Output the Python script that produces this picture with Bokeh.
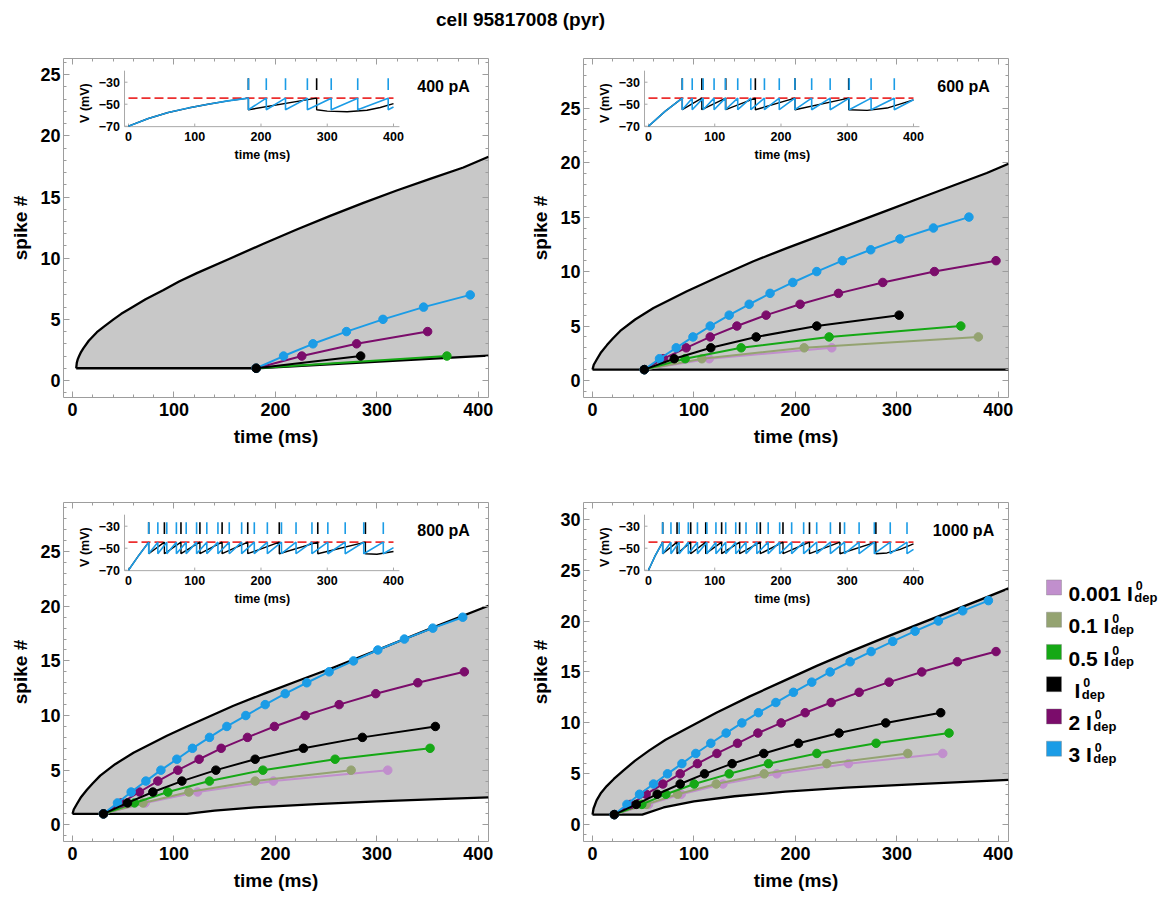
from bokeh.plotting import figure
from bokeh.layouts import column, row
from bokeh.models import Range1d, LinearAxis, SingleIntervalTicker, FixedTicker
from bokeh.core.properties import value
from bokeh.embed import file_html
from bokeh.resources import INLINE

FONT = "Liberation Sans"
TITLE = "cell 95817008 (pyr)"

# ---------------- series meta ----------------
series_coef = ["0.001", "0.1", "0.5", "", "2", "3"]
series_colors = ["#c18fcd", "#94a371", "#15a815", "#000000", "#7b0c6b", "#1b9ce6"]
panel_currents = ["400 pA", "600 pA", "800 pA", "1000 pA"]

# ---------------- 400 pA: spike times (ms) / spike number ----------------
t400_0001 = [181]; n400_0001 = [1]
t400_01 = [181]; n400_01 = [1]
t400_05 = [181, 369]; n400_05 = [1, 2]
t400_1 = [181, 284]; n400_1 = [1, 2]
t400_2 = [181, 226, 280, 350]; n400_2 = [1, 2, 3, 4]
t400_3 = [181, 208, 237, 270, 306, 346, 392]; n400_3 = [1, 2, 3, 4, 5, 6, 7]

# ---------------- 600 pA ----------------
t600_0001 = [51, 115, 235.8]; n600_0001 = [1, 2, 3]
t600_01 = [51, 107.8, 208.6, 380.3]; n600_01 = [1, 2, 3, 4]
t600_05 = [51, 91.3, 146.5, 233.2, 363]; n600_05 = [1, 2, 3, 4, 5]
t600_1 = [51, 80.5, 116.6, 161.3, 221, 302.2]; n600_1 = [1, 2, 3, 4, 5, 6]
t600_2 = [51, 70, 92.3, 116, 142.3, 171.1, 204.6, 242.4, 286.1, 337, 397.7]
n600_2 = [1, 2, 3, 4, 5, 6, 7, 8, 9, 10, 11]
t600_3 = [51, 66, 82.5, 99, 116, 134.7, 154.4, 175, 197.4, 221, 246.3, 274.2, 303, 336, 371]
n600_3 = [1, 2, 3, 4, 5, 6, 7, 8, 9, 10, 11, 12, 13, 14, 15]

# ---------------- 800 pA ----------------
t800_0001 = [30.5, 71.6, 123.2, 198, 310.7]; n800_0001 = [1, 2, 3, 4, 5]
t800_01 = [30.5, 69.4, 114.7, 180, 274.6]; n800_01 = [1, 2, 3, 4, 5]
t800_05 = [30.5, 61.1, 93.9, 135, 187.6, 258.8, 352.4]; n800_05 = [1, 2, 3, 4, 5, 6, 7]
t800_1 = [30.5, 54.2, 79.2, 107.8, 141.3, 180, 227.6, 285.7, 357.6]
n800_1 = [1, 2, 3, 4, 5, 6, 7, 8, 9]
t800_2 = [30.5, 48, 66, 84.1, 103.8, 124.8, 146.5, 172.4, 199, 229.3, 262.8, 298.9, 340.3, 386.2]
n800_2 = [1, 2, 3, 4, 5, 6, 7, 8, 9, 10, 11, 12, 13, 14]
t800_3 = [30.5, 44.3, 57.8, 72.3, 87.1, 102.8, 118.2, 135, 152.1, 170.8, 189.9, 209.6,
          230.9, 252.9, 276.9, 300.9, 327.1, 355.1, 384.6]
n800_3 = [1, 2, 3, 4, 5, 6, 7, 8, 9, 10, 11, 12, 13, 14, 15, 16, 17, 18, 19]

# ---------------- 1000 pA ----------------
t1000_0001 = [21.4, 55.2, 87.4, 128.5, 181.7, 252.2, 345.2]; n1000_0001 = [1, 2, 3, 4, 5, 6, 7]
t1000_01 = [21.4, 52.9, 83.8, 121.9, 169.2, 230.9, 310.7]; n1000_01 = [1, 2, 3, 4, 5, 6, 7]
t1000_05 = [21.4, 48.6, 72.3, 100.2, 134.7, 173.4, 221.1, 279.5, 351.4]
n1000_05 = [1, 2, 3, 4, 5, 6, 7, 8, 9]
t1000_1 = [21.4, 43.1, 63.7, 86.4, 110.4, 137.6, 168.8, 203, 243, 289, 343.2]
n1000_1 = [1, 2, 3, 4, 5, 6, 7, 8, 9, 10, 11]
t1000_2 = [21.4, 37.5, 52.9, 69.3, 86.4, 103.4, 122.6, 142.9, 163, 185.9, 209.6, 235.2,
           262.8, 292.3, 324.5, 359.6, 397.7]
n1000_2 = [1, 2, 3, 4, 5, 6, 7, 8, 9, 10, 11, 12, 13, 14, 15, 16, 17]
t1000_3 = [21.4, 33.9, 46.3, 60.1, 73.9, 88.1, 101.8, 116.6, 131.7, 147.2, 163.5, 180.7,
           198, 216.1, 234.2, 253.9, 274.6, 295.9, 317.9, 340.9, 364.9, 390.2]
n1000_3 = [1, 2, 3, 4, 5, 6, 7, 8, 9, 10, 11, 12, 13, 14, 15, 16, 17, 18, 19, 20, 21, 22]

# ---------------- grey region boundaries (upper / lower) ----------------
u400_t = [3.6, 4.2, 5.2, 6.5, 8.5, 10.8, 16, 24, 30, 40.4, 48, 56.8, 72, 89.7, 105, 122.5,
          155.4, 188.2, 221, 253.9, 286.7, 319.5, 352.4, 385.2, 410]
u400_n = [1.0, 1.45, 1.75, 2.0, 2.35, 2.65, 3.25, 3.95, 4.35, 5.0, 5.45, 5.88, 6.65, 7.4,
          8.1, 8.78, 9.98, 11.18, 12.35, 13.46, 14.53, 15.54, 16.49, 17.42, 18.3]
l400_t = [3.6, 181, 410]
l400_n = [1, 1, 2.04]

u600_t = [0, 1.2, 4.3, 8.5, 14.2, 20, 27.3, 42, 60.1, 93, 125.8, 158.6, 191.5, 224.3, 257.2,
          290, 322.9, 355.7, 388.6, 410]
u600_n = [1, 1.45, 1.95, 2.6, 3.25, 3.85, 4.55, 5.6, 6.65, 8.2, 9.6, 10.95, 12.15, 13.3, 14.45,
          15.6, 16.75, 17.9, 19.05, 19.9]
l600_t = [0, 410]
l600_n = [1, 1]

u800_t = [0, 1.2, 4.3, 8.5, 14.2, 20, 27.3, 42, 60.1, 93, 112.7, 158.6, 191.5, 224.3, 257.2,
          290, 322.9, 355.7, 410]
u800_n = [1, 1.4, 1.9, 2.55, 3.2, 3.8, 4.5, 5.55, 6.6, 8.15, 9.0, 10.9, 12.1, 13.25, 14.4,
          15.6, 16.85, 18.07, 20.05]
l800_t = [0, 112.7, 140, 180, 240, 300, 360, 410]
l800_n = [1, 1, 1.3, 1.6, 1.9, 2.15, 2.35, 2.5]

u1000_t = [0, 1, 4, 8.5, 14, 21, 30, 42, 56, 72, 90, 122, 155, 188, 221, 254, 286, 319, 352,
           385, 410]
u1000_n = [1, 1.6, 2.4, 3.15, 3.8, 4.5, 5.3, 6.3, 7.3, 8.35, 9.3, 11.0, 12.6, 14.1, 15.6, 17.0,
           18.3, 19.6, 20.9, 22.2, 23.2]
l1000_t = [0, 49, 70, 100, 140, 190, 250, 320, 410]
l1000_n = [1, 1, 1.7, 2.3, 2.8, 3.25, 3.65, 4.0, 4.4]

# ---------------- inset voltage traces ----------------
V_TH = -44.5        # threshold (mV), red dashed
V_RESET = -55.0     # reset (mV)
SPIKE_MARK = [-37.0, -26.5]   # spike raster marks (mV)
STIM = [0, 400]     # stimulus window (ms)
ins_xticks = [0, 100, 200, 300, 400]
ins_yticks = [-70, -50, -30]

ramp400_t = [0, 30, 60, 90, 120, 150, 181]; ramp400_v = [-70, -63, -57.5, -53.5, -50, -47, -44.5]
ramp600_t = [0, 25, 51]; ramp600_v = [-70, -56.5, -44.5]
ramp800_t = [0, 15, 30.5]; ramp800_v = [-70, -57, -44.5]
ramp1000_t = [0, 10, 21.4]; ramp1000_v = [-70, -57, -44.5]

tail400_3_t = [400]; tail400_3_v = [-52.5]
tail600_3_t = [400]; tail600_3_v = [-46]
tail800_3_t = [400]; tail800_3_v = [-49.5]
tail1000_3_t = [400]; tail1000_3_v = [-51]
tail400_1_t = [300, 330, 360, 380, 400]; tail400_1_v = [-56.3, -56.8, -55.5, -53, -49.5]
tail600_1_t = [330, 360, 400]; tail600_1_v = [-55.6, -53.5, -46]
tail800_1_t = [375, 400]; tail800_1_v = [-55.5, -53]
tail1000_1_t = [360, 380, 400]; tail1000_1_v = [-54.3, -51, -46]

# axis ranges read from the frames
x_main = (-8.9, 410)
y400 = (-1.39, 26.33)
y600 = (-1.56, 29.56)
y800 = (-1.53, 29.5)
y1000 = (-1.64, 31.63)

# main axis tick positions
x_major = [0, 100, 200, 300, 400]
x_minor = [t for t in range(0, 401, 20) if t % 100]

panels = [
    dict(label=panel_currents[0], yr=y400,
         series=[(t400_0001, n400_0001), (t400_01, n400_01), (t400_05, n400_05),
                 (t400_1, n400_1), (t400_2, n400_2), (t400_3, n400_3)],
         upper=(u400_t, u400_n), lower=(l400_t, l400_n), ramp=(ramp400_t, ramp400_v),
         tail3=(tail400_3_t, tail400_3_v), tail1=(tail400_1_t, tail400_1_v)),
    dict(label=panel_currents[1], yr=y600,
         series=[(t600_0001, n600_0001), (t600_01, n600_01), (t600_05, n600_05),
                 (t600_1, n600_1), (t600_2, n600_2), (t600_3, n600_3)],
         upper=(u600_t, u600_n), lower=(l600_t, l600_n), ramp=(ramp600_t, ramp600_v),
         tail3=(tail600_3_t, tail600_3_v), tail1=(tail600_1_t, tail600_1_v)),
    dict(label=panel_currents[2], yr=y800,
         series=[(t800_0001, n800_0001), (t800_01, n800_01), (t800_05, n800_05),
                 (t800_1, n800_1), (t800_2, n800_2), (t800_3, n800_3)],
         upper=(u800_t, u800_n), lower=(l800_t, l800_n), ramp=(ramp800_t, ramp800_v),
         tail3=(tail800_3_t, tail800_3_v), tail1=(tail800_1_t, tail800_1_v)),
    dict(label=panel_currents[3], yr=y1000,
         series=[(t1000_0001, n1000_0001), (t1000_01, n1000_01), (t1000_05, n1000_05),
                 (t1000_1, n1000_1), (t1000_2, n1000_2), (t1000_3, n1000_3)],
         upper=(u1000_t, u1000_n), lower=(l1000_t, l1000_n), ramp=(ramp1000_t, ramp1000_v),
         tail3=(tail1000_3_t, tail1000_3_v), tail1=(tail1000_1_t, tail1000_1_v)),
]

FRAME_COL = "#9d9d9d"
FILL_COL = "#c8c8c8"
RED = "#ec2f2f"


def trace(ramp, spikes, tail):
    xs = list(ramp[0]); ys = list(ramp[1])
    for s in spikes:
        xs += [s, s]; ys += [V_TH, V_RESET]
    xs += list(tail[0]); ys += list(tail[1])
    return xs, ys


def style_axis(ax):
    ax.axis_line_color = None
    ax.major_tick_line_color = FRAME_COL
    ax.minor_tick_line_color = FRAME_COL
    ax.major_tick_in = 6
    ax.major_tick_out = 0
    ax.minor_tick_in = 3
    ax.minor_tick_out = 0
    ax.major_label_text_font = FONT
    ax.major_label_text_font_style = "bold"
    ax.major_label_text_color = "black"
    ax.major_label_text_font_size = "18px"
    ax.axis_label_text_font = FONT
    ax.axis_label_text_font_style = "bold"
    ax.axis_label_text_font_size = "19px"
    ax.axis_label_text_color = "black"


def tick_only_axis(p, side, positions, length):
    ax = LinearAxis(ticker=FixedTicker(ticks=[], minor_ticks=positions))
    ax.axis_line_color = None
    ax.major_tick_line_color = None
    ax.minor_tick_line_color = FRAME_COL
    ax.minor_tick_in = length
    ax.minor_tick_out = 0
    ax.major_tick_in = 0
    ax.major_tick_out = 0
    ax.major_label_standoff = 0
    p.add_layout(ax, side)


def make_panel(d, mbl, mbr, mbt, mbb):
    p = figure(frame_width=425, frame_height=339,
               x_range=Range1d(*x_main), y_range=Range1d(*d["yr"]),
               min_border_left=mbl, min_border_right=mbr,
               min_border_top=mbt, min_border_bottom=mbb,
               x_axis_type=None, y_axis_type=None,
               output_backend="svg", toolbar_location=None)
    p.outline_line_color = FRAME_COL
    p.outline_line_width = 1
    p.background_fill_color = "white"
    p.border_fill_color = "white"
    p.extra_x_ranges = {"ins": Range1d(-98.1, 543.4)}
    p.extra_y_ranges = {"ins": Range1d(-316.6, -8.45)}

    xb = LinearAxis(ticker=SingleIntervalTicker(interval=100, num_minor_ticks=5),
                    axis_label="time (ms)")
    style_axis(xb)
    xb.major_label_standoff = 5
    xb.axis_label_standoff = 7
    p.add_layout(xb, "below")
    yl = LinearAxis(ticker=SingleIntervalTicker(interval=5, num_minor_ticks=5),
                    axis_label="spike #")
    style_axis(yl)
    yl.major_label_standoff = 3
    yl.axis_label_standoff = 6
    p.add_layout(yl, "left")

    ytop = int(d["yr"][1])
    y_major = [v for v in range(0, ytop + 1) if v % 5 == 0]
    y_minor = [v for v in range(0, ytop + 1) if v % 5]
    tick_only_axis(p, "above", x_major, 6)
    tick_only_axis(p, "above", x_minor, 3)
    tick_only_axis(p, "right", y_major, 6)
    tick_only_axis(p, "right", y_minor, 3)

    # grey region
    ut, un = d["upper"]; lt, ln = d["lower"]
    p.patch(list(ut) + list(lt)[::-1], list(un) + list(ln)[::-1],
            fill_color=FILL_COL, line_color=None)
    p.line(ut, un, line_color="black", line_width=2.3, line_join="round")
    p.line(lt, ln, line_color="black", line_width=2.3, line_join="round")

    # spike-number series (black drawn last)
    for k in [0, 1, 2, 4, 5, 3]:
        t, n = d["series"][k]
        c = series_colors[k]
        p.line(t, n, line_color=c, line_width=2)
        p.scatter(t, n, size=8.5, fill_color=c, line_color=c)

    # ---------------- inset ----------------
    kw = dict(x_range_name="ins", y_range_name="ins")
    p.segment(x0=[-6, -6], y0=[-70.4, -70.4], x1=[409, -6], y1=[-70.4, -19.5],
              line_color="#a8a8a8", line_width=1, **kw)
    p.segment(x0=ins_xticks, y0=[-70.4] * len(ins_xticks), x1=ins_xticks,
              y1=[-67.6] * len(ins_xticks), line_color="#a8a8a8", line_width=1, **kw)
    p.segment(x0=[-6] * 3, y0=ins_yticks, x1=[-1.5] * 3, y1=ins_yticks,
              line_color="#a8a8a8", line_width=1, **kw)
    p.text(x=[-13] * 3, y=ins_yticks, text=["\u2212%d" % abs(v) for v in ins_yticks],
           text_font=value(FONT), text_font_style="bold", text_font_size="12.5px",
           text_align="right", text_baseline="middle", text_color="black", **kw)
    p.text(x=ins_xticks, y=[-79.1] * len(ins_xticks), text=[str(v) for v in ins_xticks],
           text_font=value(FONT), text_font_style="bold", text_font_size="12.5px",
           text_align="center", text_baseline="middle", text_color="black", **kw)
    p.text(x=[202], y=[-96.6], text=["time (ms)"],
           text_font=value(FONT), text_font_style="bold", text_font_size="12.5px",
           text_align="center", text_baseline="middle", text_color="black", **kw)
    p.text(x=[-65], y=[-49], text=["V (mV)"], angle=1.5708,
           text_font=value(FONT), text_font_style="bold", text_font_size="12.5px",
           text_align="center", text_baseline="middle", text_color="black", **kw)
    p.line(STIM, [V_TH, V_TH], line_color=RED, line_width=1.6, line_dash="9 4", **kw)
    t1 = d["series"][3][0]; t3 = d["series"][5][0]
    bx, by = trace(d["ramp"], t1, d["tail1"])
    p.line(bx, by, line_color="black", line_width=1.4, **kw)
    cx, cy = trace(d["ramp"], t3, d["tail3"])
    p.line(cx, cy, line_color=series_colors[5], line_width=1.6, **kw)
    p.segment(x0=t1, y0=[SPIKE_MARK[0]] * len(t1), x1=t1, y1=[SPIKE_MARK[1]] * len(t1),
              line_color="black", line_width=1.6, **kw)
    p.segment(x0=t3, y0=[SPIKE_MARK[0]] * len(t3), x1=t3, y1=[SPIKE_MARK[1]] * len(t3),
              line_color=series_colors[5], line_width=1.6, **kw)
    p.text(x=[475.5], y=[-33.5], text=[d["label"]],
           text_font=value(FONT), text_font_style="bold", text_font_size="16px",
           text_align="center", text_baseline="middle", text_color="black", **kw)
    return p


p1 = make_panel(panels[0], 63, 32, 18, 73)
p2 = make_panel(panels[1], 63, 27, 18, 73)
p3 = make_panel(panels[2], 63, 32, 32, 60)
p4 = make_panel(panels[3], 63, 27, 32, 60)

# ---------------- title ----------------
pt = figure(width=1172, height=40, x_range=Range1d(0, 1172), y_range=Range1d(40, 0),
            x_axis_type=None, y_axis_type=None, min_border_left=0, min_border_right=0,
            min_border_top=0, min_border_bottom=0, output_backend="svg",
            toolbar_location=None)
pt.outline_line_color = None
pt.text(x=[520], y=[19], text=[TITLE], text_font=value(FONT), text_font_style="bold",
        text_font_size="19px", text_align="center", text_baseline="middle",
        text_color="black")

# ---------------- legend ----------------
pl = figure(width=137, height=431, x_range=Range1d(1035, 1172), y_range=Range1d(901, 470),
            x_axis_type=None, y_axis_type=None, min_border_left=0, min_border_right=0,
            min_border_top=0, min_border_bottom=0, output_backend="svg",
            toolbar_location=None)
pl.outline_line_color = None
LFS = 21
W = {'0': .556, '1': .556, '2': .556, '3': .556, '5': .556, '.': .278, ' ': .278, 'I': .278}
rows_y = [578 + 41 * i for i in range(6)]
pl.scatter(x=[1053.5] * 6, y=rows_y, marker="square", size=15, fill_color=series_colors,
           line_color="#808080", line_alpha=0.5, line_width=0.8)
main_txt, main_x, sup_x = [], [], []
for coef in series_coef:
    s = (coef + " I") if coef else "I"
    x0 = 1068 if coef else 1074
    w = sum(W[ch] for ch in s) * LFS
    main_txt.append(s); main_x.append(x0); sup_x.append(x0 + w + 1.5)
pl.text(x=main_x, y=[y + 8 for y in rows_y], text=main_txt, text_font=value(FONT),
        text_font_style="bold", text_font_size="%dpx" % LFS, text_align="left",
        text_baseline="alphabetic", text_color="black")
pl.text(x=[x + 1.5 for x in sup_x], y=[y - 2 for y in rows_y], text=["0"] * 6,
        text_font=value(FONT), text_font_style="bold", text_font_size="12.5px",
        text_align="left", text_baseline="alphabetic", text_color="black")
pl.text(x=sup_x, y=[y + 12.5 for y in rows_y], text=["dep"] * 6,
        text_font=value(FONT), text_font_style="bold", text_font_size="13px",
        text_align="left", text_baseline="alphabetic", text_color="black")

layout = column(pt, row(p1, p2), row(p3, p4, pl))
open("out.html", "w").write(file_html(layout, INLINE))
